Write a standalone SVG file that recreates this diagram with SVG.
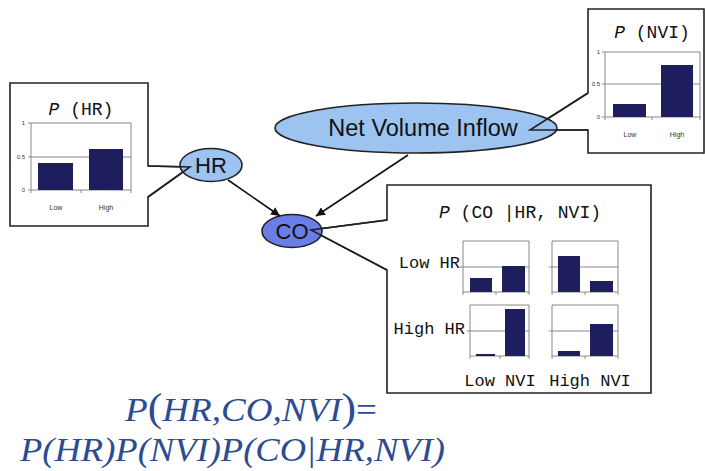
<svg xmlns="http://www.w3.org/2000/svg" width="705" height="471" viewBox="0 0 705 471">
<defs>
<marker id="ah" viewBox="0 0 10 10" refX="10" refY="5" markerWidth="9" markerHeight="9" markerUnits="userSpaceOnUse" orient="auto">
<path d="M0,0 L10,5 L0,10 Z" fill="#111"/>
</marker>
</defs>
<style>
.box{fill:#fff;stroke:#222;stroke-width:1.6}
.ptr{fill:none;stroke:#222;stroke-width:1.6}
.ax{fill:none;stroke:#888;stroke-width:1}
.bar{fill:#1e1e5e}
.tick{font-family:"Liberation Sans",Arial,sans-serif;font-size:6px;fill:#333;text-anchor:end}
.cat{font-family:"Liberation Sans",Arial,sans-serif;font-size:7px;fill:#333;text-anchor:middle}
.ttl{font-family:"Liberation Mono","Courier New",monospace;font-size:18px;fill:#111}
.it{font-style:italic}
.lbl{font-family:"Liberation Mono","Courier New",monospace;font-size:17px;fill:#111}
.node{font-family:"Liberation Sans",Arial,sans-serif;fill:#111;text-anchor:middle}
.eq{font-family:"Liberation Serif","Times New Roman",serif;font-style:italic;font-size:34px;fill:#2b4c92}
.edge{stroke:#111;stroke-width:1.6;fill:none}
</style>

<!-- P(HR) callout -->
<g id="p-hr">
<path class="box" d="M10,83 H148 V166 L190,167 L148,197 V226 H10 Z"/>
<text class="ttl" x="81" y="115" text-anchor="middle"><tspan class="it">P</tspan> (HR)</text>
<path class="ax" d="M31,123 H131 V190 M31,157 H131 M28,123 H31 M28,157 H31 M28,190 H31 M31,123 V190 H131 M31,190 V193 M81,190 V193 M131,190 V193"/>
<rect class="bar" x="38" y="163" width="35" height="27"/>
<rect class="bar" x="89" y="149" width="34" height="41"/>
<text class="tick" x="25" y="125">1</text>
<text class="tick" x="25" y="159">0.5</text>
<text class="tick" x="25" y="192">0</text>
<text class="cat" x="56" y="210">Low</text>
<text class="cat" x="106" y="210">High</text>
</g>

<!-- P(NVI) callout -->
<g id="p-nvi">
<path class="box" d="M588,9 H704 V153 H588 V130 L530,130 L588,93 Z"/>
<text class="ttl" x="652" y="38" text-anchor="middle"><tspan class="it">P</tspan> (NVI)</text>
<path class="ax" d="M605,52 H700 V117 M605,84 H700 M602,52 H605 M602,84 H605 M602,117 H605 M605,52 V117 H700 M605,117 V120 M652,117 V120 M700,117 V120"/>
<rect class="bar" x="613" y="104" width="33" height="13"/>
<rect class="bar" x="661" y="65" width="32" height="52"/>
<text class="tick" x="600" y="54">1</text>
<text class="tick" x="600" y="86">0.5</text>
<text class="tick" x="600" y="119">0</text>
<text class="cat" x="630" y="137">Low</text>
<text class="cat" x="677" y="137">High</text>
</g>

<!-- P(CO|HR,NVI) callout -->
<g id="p-co">
<path class="box" d="M387,185 H651 V393 H387 V270 L311,230 L387,220 Z"/>
<text class="ttl" x="520" y="218" text-anchor="middle"><tspan class="it">P</tspan> (CO |HR, NVI)</text>
<path class="ax" d="M463,241 H529 V292 H463 Z M463,267 H529 M460,267 H463 M496,292 V295 M463,292 V295 M529,292 V295"/>
<rect class="bar" x="470" y="278" width="22" height="14"/>
<rect class="bar" x="502" y="266" width="23" height="26"/>
<path class="ax" d="M552,241 H618 V292 H552 Z M552,267 H618 M549,267 H552 M585,292 V295 M552,292 V295 M618,292 V295"/>
<rect class="bar" x="558" y="256" width="22" height="36"/>
<rect class="bar" x="590" y="281" width="23" height="11"/>
<path class="ax" d="M470,305 H529 V356 H470 Z M470,331 H529 M467,331 H470 M500,356 V359 M470,356 V359 M529,356 V359"/>
<rect class="bar" x="476" y="354" width="19" height="2"/>
<rect class="bar" x="505" y="309" width="20" height="47"/>
<path class="ax" d="M552,305 H618 V356 H552 Z M552,331 H618 M549,331 H552 M585,356 V359 M552,356 V359 M618,356 V359"/>
<rect class="bar" x="558" y="351" width="22" height="5"/>
<rect class="bar" x="590" y="324" width="23" height="32"/>
<text class="lbl" x="460" y="268" text-anchor="end">Low HR</text>
<text class="lbl" x="465" y="334" text-anchor="end">High HR</text>
<text class="lbl" x="500" y="386" text-anchor="middle">Low NVI</text>
<text class="lbl" x="590" y="386" text-anchor="middle">High NVI</text>
</g>

<!-- nodes -->
<g id="hr">
<ellipse cx="211" cy="165" rx="31" ry="16.5" fill="#9dc3f0" stroke="#222" stroke-width="1.6"/>
<text class="node" x="211" y="173" font-size="22">HR</text>
</g>
<g id="nvi">
<ellipse cx="416" cy="128" rx="141" ry="25" fill="#9dc3f0" stroke="#222" stroke-width="1.6"/>
<text class="node" x="423" y="136" font-size="23.5">Net Volume Inflow</text>
</g>
<g id="co">
<ellipse cx="292" cy="231" rx="30" ry="16.5" fill="#6a7fe6" stroke="#222" stroke-width="1.6"/>
<text class="node" x="292" y="239" font-size="22">CO</text>
</g>

<!-- callout pointers drawn over nodes -->
<g id="pointers">
<path class="ptr" d="M148,166 L190,167 L148,197"/>
<path class="ptr" d="M588,130 L530,130 L588,93"/>
<path class="ptr" d="M387,270 L311,230 L387,220"/>
</g>

<!-- connectors -->
<g id="connectors">
<line class="edge" x1="228" y1="180" x2="280" y2="216" marker-end="url(#ah)"/>
<line class="edge" x1="408" y1="155" x2="316" y2="216" marker-end="url(#ah)"/>
</g>

<!-- equation -->
<g id="equation">
<text class="eq" x="125" y="421" textLength="252" lengthAdjust="spacingAndGlyphs">P<tspan font-style="normal" font-size="40">(</tspan>HR,CO,NVI<tspan font-style="normal" font-size="40">)</tspan><tspan font-style="normal">=</tspan></text>
<text class="eq" x="20" y="461" textLength="425" lengthAdjust="spacingAndGlyphs">P(HR)P(NVI)P(CO|HR,NVI)</text>
</g>
</svg>
